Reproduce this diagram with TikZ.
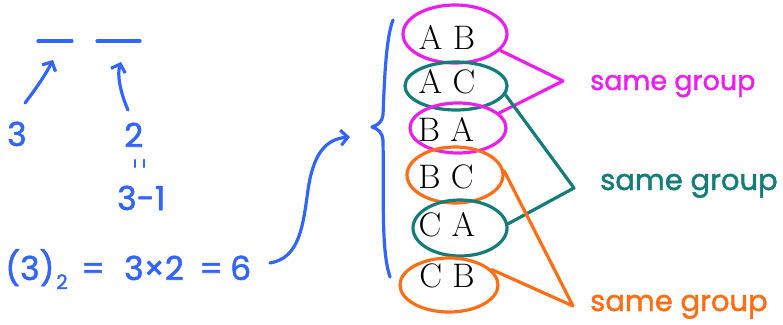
\documentclass[tikz,border=0pt]{standalone}
\usepackage{fontspec}
\newfontfamily\hand{Poppins}[FakeBold=1.6]
\usetikzlibrary{shapes.geometric,arrows.meta}
\definecolor{hblue}{RGB}{50,100,255}
\definecolor{hmag}{RGB}{235,30,235}
\definecolor{hteal}{RGB}{20,125,120}
\definecolor{horange}{RGB}{255,110,20}
\begin{document}
\begin{tikzpicture}[x=1pt,y=-1pt,
  pen/.style={line width=3.2pt,line cap=round,line join=round},
  bluepen/.style={pen,hblue},
  arr/.style={bluepen,-{Straight Barb[length=7pt,width=15pt]}},
  loopE/.style={ellipse,draw,pen,inner sep=0pt},
  pair/.style={inner sep=0pt,font=\fontsize{34}{40}\selectfont},
  bluetxt/.style={inner sep=0pt,anchor=base west,text=hblue,font=\hand\fontsize{33}{40}\selectfont},
  lab/.style={inner sep=0pt,anchor=base west,font=\hand\fontsize{27}{32}\selectfont}]
\useasboundingbox (0,0) rectangle (783,324);

% blanks
\draw[bluepen] (38,41) -- (72,41);
\draw[bluepen] (97,41) -- (140,41);

% left texts
\node[bluetxt] (three) at (7,146) {3};
\node[bluetxt] (two) at (124,147) {2};
\draw[bluepen,line width=2.6pt] (135,160) -- (135,167);
\draw[bluepen,line width=2.6pt] (144,160) -- (144,167);
\node[bluetxt] (tmo) at (117,210) {3-1};

\coordinate (a1s) at (25,103);
\coordinate (a1e) at (53,60);
\draw[arr] (a1s) .. controls (35,90) and (46,74) .. (a1e);
\coordinate (a2s) at (128,110);
\coordinate (a2e) at (121,62);
\draw[arr] (a2s) .. controls (120,92) and (117,74) .. (a2e);

% equation
\node[bluetxt] (lp) at (5,280) {(3)};
\node[bluetxt,font=\hand\fontsize{20}{24}\selectfont] (sub) at (56,289) {2};
\node[bluetxt] (eq1) at (81,280) {=};
\node[bluetxt] (prod) at (124,280) {3×2};
\node[bluetxt] (eq2) at (199,280) {=};
\node[bluetxt] (six) at (230,280) {6};

% big arrow
\coordinate (bs) at (270,263);
\coordinate (be) at (350,137);
\draw[arr] (bs) .. controls (300,258) and (303,225) .. (308,190)
  .. controls (313,155) and (325,139) .. (be);

% brace
\draw[bluepen] (393,20) .. controls (385,40) and (384,95) .. (383,115)
  .. controls (382,122) and (378,125) .. (372,127)
  .. controls (378,129) and (382,132) .. (383,140)
  .. controls (384,200) and (381,250) .. (390,277);

% pairs
\node[pair] (tAB) at (447,37) {A B};
\node[pair] (tAC) at (447,82) {A C};
\node[pair] (tBA) at (446,129) {B A};
\node[pair] (tBC) at (446,177) {B C};
\node[pair] (tCA) at (447,225) {C A};
\node[pair] (tCB) at (447,276) {C B};

% loops
\node[loopE,hmag,minimum width=104pt,minimum height=58pt] (eAB) at (455,34) {};
\node[loopE,hteal,minimum width=102pt,minimum height=48pt] (eAC) at (456,86) {};
\node[loopE,hmag,minimum width=96pt,minimum height=50pt] (eBA) at (458,128) {};
\node[loopE,horange,minimum width=96pt,minimum height=56pt] (eBC) at (455,175) {};
\node[loopE,hteal,minimum width=94pt,minimum height=56pt] (eCA) at (460,228) {};
\node[loopE,horange,minimum width=98pt,minimum height=54pt] (eCB) at (449,285) {};

% group connectors
\coordinate (vm) at (563,81);
\coordinate (vt) at (574,188);
\coordinate (vo) at (573,306);
\draw[pen,hmag] (eAB.-20) -- (vm) -- (eBA.20);
\draw[pen,hteal] (eAC.-10) -- (vt) -- (eCA.5);
\draw[pen,horange] (eBC.5) -- (vo) -- (eCB.20);

% labels
\node[lab,text=hmag] (lm) at (590,90) {same group};
\node[lab,text=hteal,font=\hand\fontsize{29}{34}\selectfont] (lt) at (600,190) {same group};
\node[lab,text=horange,font=\hand\fontsize{29}{34}\selectfont] (lo) at (590,311) {same group};
\end{tikzpicture}
\end{document}
